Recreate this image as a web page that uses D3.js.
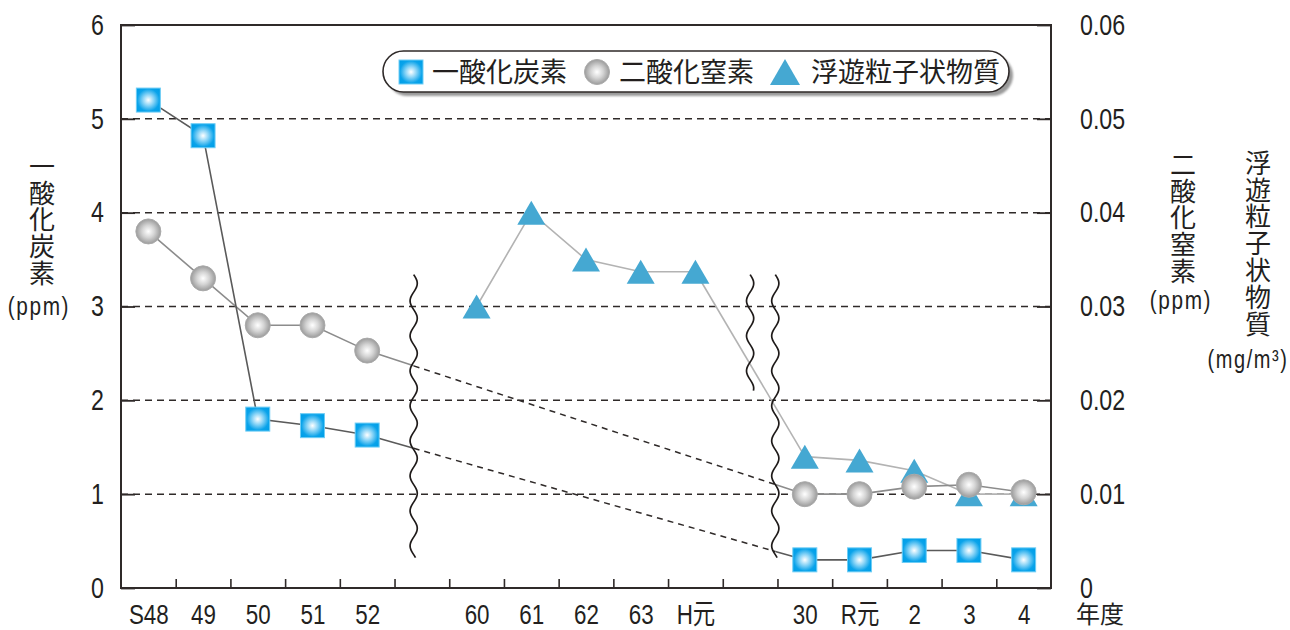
<!DOCTYPE html>
<html>
<head>
<meta charset="utf-8">
<script src="https://cdn.jsdelivr.net/npm/d3@7"></script>
<style>
  html, body { margin: 0; padding: 0; background: #fff; }
  svg { display: block; }
  .num { font-family: "Liberation Sans", Arial, "Noto Sans CJK JP", sans-serif; }
  .jp { font-family: "Noto Sans CJK JP", sans-serif; }
  .vert { font-family: "Noto Sans CJK JP", sans-serif; writing-mode: vertical-rl; text-orientation: upright; }
</style>
</head>
<body>
<svg id="chart" width="1290" height="630"></svg>
<script>
// Fiscal-year categories (blank entries are the gaps where the axis is broken)
const categories = ["S48", "49", "50", "51", "52", "", "60", "61", "62", "63", "H元", "", "30", "R元", "2", "3", "4"];
// 一酸化炭素 (ppm, left axis)
const coValues  = [5.2, 4.82, 1.8, 1.73, 1.63, null, null, null, null, null, null, null, 0.3, 0.3, 0.4, 0.4, 0.3];
// 二酸化窒素 (ppm, right axis)
const no2Values = [0.038, 0.033, 0.028, 0.028, 0.0253, null, null, null, null, null, null, null, 0.010, 0.010, 0.0108, 0.011, 0.0102];
// 浮遊粒子状物質 (mg/m³, right axis)
const spmValues = [null, null, null, null, null, null, 0.030, 0.040, 0.035, 0.0337, 0.0337, null, 0.014, 0.0136, 0.0125, 0.010, 0.010];
const leftTicks  = [0, 1, 2, 3, 4, 5, 6];
const rightTicks = [0, 0.01, 0.02, 0.03, 0.04, 0.05, 0.06];
const legendLabels = ["一酸化炭素", "二酸化窒素", "浮遊粒子状物質"];

const svg = d3.select("#chart");
const L = 121, R = 1051, T = 25, B = 588;
const n = categories.length;

const x  = d3.scaleLinear().domain([-0.5, n - 0.5]).range([L, R]);
const yL = d3.scaleLinear().domain([0, 6]).range([B, T]);
const yR = d3.scaleLinear().domain([0, 0.06]).range([B, T]);

const ink = "#2f2a29";
const textInk = "#231f1e";
const SQX = 0.8;   // horizontal squeeze giving the condensed look of the numerals

const defs = svg.append("defs");
const gSq = defs.append("radialGradient").attr("id", "gradSq").attr("cx", "50%").attr("cy", "50%").attr("r", "62%");
gSq.append("stop").attr("offset", "0%").attr("stop-color", "#ffffff");
gSq.append("stop").attr("offset", "35%").attr("stop-color", "#8fd6f7");
gSq.append("stop").attr("offset", "75%").attr("stop-color", "#0aa3ea");
gSq.append("stop").attr("offset", "100%").attr("stop-color", "#009fe8");

const gCi = defs.append("radialGradient").attr("id", "gradCi").attr("cx", "50%").attr("cy", "50%").attr("r", "55%");
gCi.append("stop").attr("offset", "0%").attr("stop-color", "#ffffff");
gCi.append("stop").attr("offset", "45%").attr("stop-color", "#d4d4d4");
gCi.append("stop").attr("offset", "100%").attr("stop-color", "#8f8f8f");

defs.append("filter").attr("id", "soft").append("feGaussianBlur").attr("stdDeviation", 1.2);

// condensed numerals: squeeze each label horizontally, keeping its anchor point
function condense(sel, size) {
  sel.selectAll("text").each(function () {
    const t = d3.select(this);
    const xv = +t.attr("x") || 0;
    t.attr("class", "num").attr("font-size", size).attr("fill", textInk)
      .attr("x", xv / SQX).attr("transform", `scale(${SQX},1)`);
  });
}

// ---- horizontal dashed grid ----
svg.append("g").selectAll("line")
  .data(leftTicks.filter(v => v > 0 && v < 6))
  .join("line")
  .attr("x1", L).attr("x2", R)
  .attr("y1", d => yL(d)).attr("y2", d => yL(d))
  .attr("stroke", ink).attr("stroke-width", 1.5)
  .attr("stroke-dasharray", "7,5");

// ---- axes ----
svg.append("g").attr("transform", `translate(${L},0)`)
  .call(d3.axisLeft(yL).tickValues(leftTicks).tickSize(0).tickPadding(17).tickFormat(d3.format("d")))
  .call(g => g.select(".domain").remove())
  .call(g => condense(g, 29));

svg.append("g").attr("transform", `translate(${R},0)`)
  .call(d3.axisRight(yR).tickValues(rightTicks).tickSize(0).tickPadding(29).tickFormat(d => d === 0 ? "0" : d3.format(".2f")(d)))
  .call(g => g.select(".domain").remove())
  .call(g => condense(g, 29));

// inward ticks on left and right axes
svg.append("g").attr("transform", `translate(${L},0)`)
  .call(d3.axisRight(yL).tickValues(leftTicks).tickSize(14).tickFormat(""))
  .call(g => g.select(".domain").remove())
  .call(g => g.selectAll("line").attr("stroke", ink).attr("stroke-width", 1.8));
svg.append("g").attr("transform", `translate(${R},0)`)
  .call(d3.axisLeft(yR).tickValues(rightTicks).tickSize(14).tickFormat(""))
  .call(g => g.select(".domain").remove())
  .call(g => g.selectAll("line").attr("stroke", ink).attr("stroke-width", 1.8));

// bottom category labels
svg.append("g").attr("transform", `translate(0,${B})`)
  .call(d3.axisBottom(x).tickValues(d3.range(n)).tickSize(0).tickPadding(16).tickFormat(i => categories[i]))
  .call(g => g.select(".domain").remove())
  .call(g => condense(g, 28));

// bottom ticks between categories (pointing up)
svg.append("g").attr("transform", `translate(0,${B})`)
  .call(d3.axisBottom(x).tickValues(d3.range(n - 1).map(i => i + 0.5)).tickSizeInner(-9).tickSizeOuter(0).tickFormat(""))
  .call(g => g.select(".domain").remove())
  .call(g => g.selectAll("line").attr("stroke", ink).attr("stroke-width", 1.6));

// frame
svg.append("rect").attr("x", L).attr("y", T).attr("width", R - L).attr("height", B - T)
  .attr("fill", "none").attr("stroke", ink).attr("stroke-width", 2);

// ---- series lines ----
const series = [
  { values: coValues,  y: yL, color: "#5a5a5a" },
  { values: no2Values, y: yR, color: "#8c8c8c" },
  { values: spmValues, y: yR, color: "#b3b3b3" }
];
const lineGen = (ys) => d3.line().defined(d => d.v != null).x(d => x(d.i)).y(d => ys(d.v));

const lines = svg.append("g").attr("fill", "none").attr("stroke-width", 1.6);
series.slice().reverse().forEach(s => {
  const pts = s.values.map((v, i) => ({ i, v }));
  lines.append("path").attr("d", lineGen(s.y)(pts)).attr("stroke", s.color);
});

// bridge across the broken axis: solid near the points, dashed between the break marks
const breakA = 4.85, breakB = 11.0, breakC = 11.46;
function bridge(s, i0, i1, dashedFrom, dashedTo) {
  const p0 = [x(i0), s.y(s.values[i0])], p1 = [x(i1), s.y(s.values[i1])];
  const at = f => { const t = (x(f) - p0[0]) / (p1[0] - p0[0]); return [x(f), p0[1] + t * (p1[1] - p0[1])]; };
  if (dashedFrom == null) {
    lines.append("path").attr("d", d3.line()([p0, p1])).attr("stroke", s.color);
    return;
  }
  const a = at(dashedFrom), c = at(dashedTo);
  lines.append("path").attr("d", d3.line()([p0, a])).attr("stroke", s.color);
  lines.append("path").attr("d", d3.line()([a, c])).attr("stroke", ink).attr("stroke-width", 1.5).attr("stroke-dasharray", "6,5");
  lines.append("path").attr("d", d3.line()([c, p1])).attr("stroke", s.color);
}
bridge(series[2], 10, 12, null, null);
bridge(series[1], 4, 12, breakA, breakC);
bridge(series[0], 4, 12, breakA, breakC);

// ---- wavy break marks ----
function wavy(xc, v0, v1) {
  const y0 = yL(v0), y1 = yL(v1);
  const pts = d3.range(y0, y1 + 0.5, 1).map(y => [xc + 3.6 * Math.sin(2 * Math.PI * (y - y0) / 35), y]);
  return d3.line().curve(d3.curveBasis)(pts);
}
const breaks = svg.append("g").attr("fill", "none").attr("stroke", "#1f1b1a").attr("stroke-width", 1.7);
breaks.append("path").attr("d", wavy(x(breakA), 3.34, 0.32));
breaks.append("path").attr("d", wavy(x(breakB), 3.34, 2.1));
breaks.append("path").attr("d", wavy(x(breakC), 3.34, 0.32));

// ---- markers ----
const triPath = (cx, cy, w, h) => `M${cx},${cy - h / 2}L${cx + w / 2},${cy + h / 2}L${cx - w / 2},${cy + h / 2}Z`;
const marks = svg.append("g");
marks.selectAll("path.spm")
  .data(spmValues.map((v, i) => ({ i, v })).filter(d => d.v != null))
  .join("path").attr("class", "spm")
  .attr("d", d => triPath(x(d.i), yR(d.v), 28, 24))
  .attr("fill", "#45a8d2");
marks.selectAll("circle.no2")
  .data(no2Values.map((v, i) => ({ i, v })).filter(d => d.v != null))
  .join("circle").attr("class", "no2")
  .attr("cx", d => x(d.i)).attr("cy", d => yR(d.v)).attr("r", 12.5)
  .attr("fill", "url(#gradCi)").attr("stroke", "#aaaaaa").attr("stroke-width", 1);
marks.selectAll("rect.co")
  .data(coValues.map((v, i) => ({ i, v })).filter(d => d.v != null))
  .join("rect").attr("class", "co")
  .attr("x", d => x(d.i) - 12).attr("y", d => yL(d.v) - 12)
  .attr("width", 24).attr("height", 24)
  .attr("fill", "url(#gradSq)").attr("stroke", "#6fcdf5").attr("stroke-width", 1);

// ---- legend ----
const lg = svg.append("g");
lg.append("rect").attr("x", 387).attr("y", 55).attr("width", 626).attr("height", 41).attr("rx", 20.5)
  .attr("fill", "#9a9a9a").attr("filter", "url(#soft)");
lg.append("rect").attr("x", 383).attr("y", 51).attr("width", 626).attr("height", 41).attr("rx", 20.5)
  .attr("fill", "#fff").attr("stroke", ink).attr("stroke-width", 1.6);
lg.append("rect").attr("x", 399).attr("y", 60).attr("width", 24).attr("height", 24)
  .attr("fill", "url(#gradSq)").attr("stroke", "#6fcdf5");
lg.append("circle").attr("cx", 597).attr("cy", 72).attr("r", 12.5)
  .attr("fill", "url(#gradCi)").attr("stroke", "#aaaaaa");
lg.append("path").attr("d", triPath(785, 72, 30, 26)).attr("fill", "#45a8d2");
const legendX = [432, 619, 811];
lg.selectAll("text").data(legendLabels).join("text")
  .attr("class", "jp").attr("x", (d, i) => legendX[i]).attr("y", 72).attr("dy", "0.36em")
  .attr("font-size", 27).attr("fill", textInk).text(d => d);

// ---- axis titles (vertical text) ----
function vertical(label, cx, yTop) {
  svg.append("text").attr("class", "vert").attr("x", cx).attr("y", yTop)
    .attr("font-size", 26).attr("letter-spacing", 0.8).attr("fill", textInk).text(label);
}
vertical("一酸化炭素", 42, 153);
vertical("二酸化窒素", 1183, 151);
vertical("浮遊粒子状物質", 1258, 150);

function unit(label, cx, cy, size) {
  svg.append("text").attr("class", "num").attr("x", cx / SQX).attr("y", cy).attr("dy", "0.36em")
    .attr("transform", `scale(${SQX},1)`)
    .attr("text-anchor", "middle").attr("font-size", size).attr("letter-spacing", 2)
    .attr("fill", textInk).text(label);
}
unit("(ppm)", 39, 306, 26);
unit("(ppm)", 1181, 300, 26);
unit("(mg/m³)", 1248, 359, 25);

svg.append("text").attr("class", "jp").attr("x", 1100).attr("y", 614).attr("dy", "0.36em")
  .attr("text-anchor", "middle").attr("font-size", 24).attr("fill", textInk).text("年度");
</script>
</body>
</html>
